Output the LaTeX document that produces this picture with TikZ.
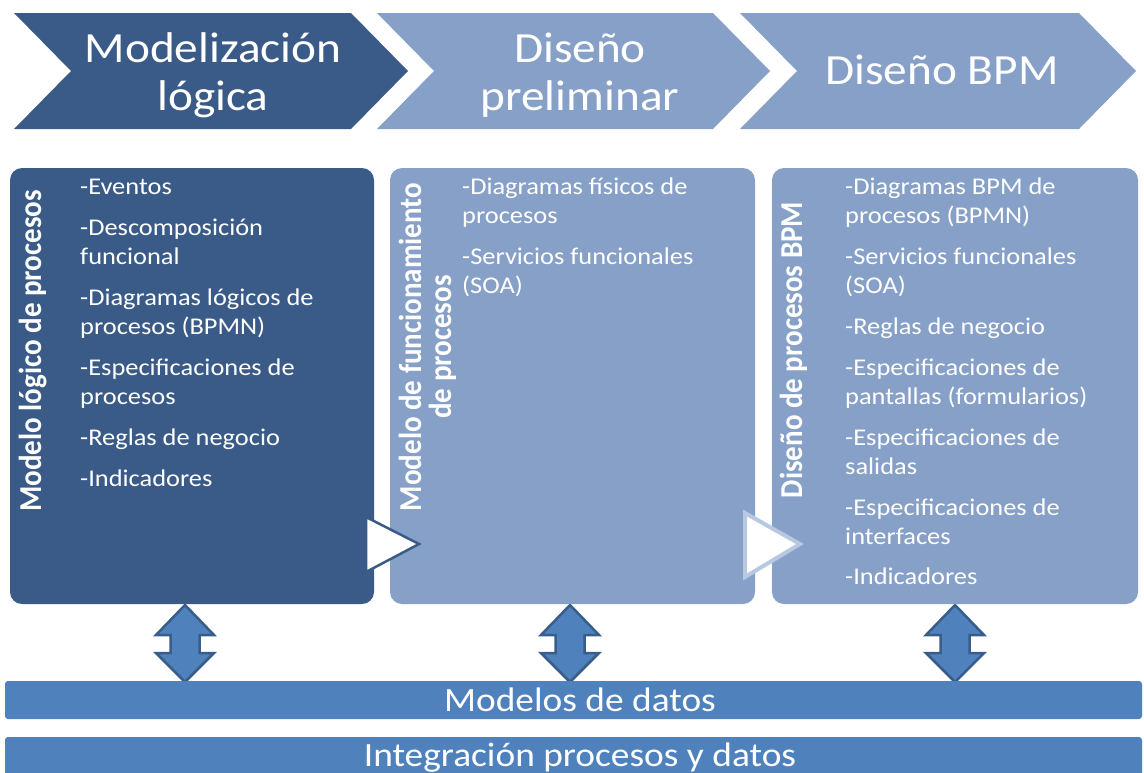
\documentclass[tikz,border=0pt]{standalone}
\usepackage{fontspec}
\setmainfont{Carlito}
\definecolor{dk}{HTML}{3A5B88}
\definecolor{lt}{HTML}{87A0C8}
\definecolor{md}{HTML}{4F81BD}
\definecolor{ab}{HTML}{385D8A}
\definecolor{tb}{HTML}{B9C8E1}
\begin{document}
\begin{tikzpicture}[x=1pt,y=-1pt,
  boxshape/.style={rounded corners=12pt, inner sep=0pt, outer sep=0pt, anchor=north west},
  bul/.style={anchor=base west, inner sep=0pt, text=white, font=\fontsize{24}{29}\selectfont, xscale=1.1},
  vlab/.style={anchor=base, inner sep=0pt, text=white, font=\bfseries\fontsize{29}{30}\selectfont, xscale=1.1, rotate=90},
  head/.style={anchor=base, inner sep=0pt, text=white, font=\fontsize{43}{48}\selectfont, xscale=1.1},
  bartxt/.style={anchor=base, inner sep=0pt, text=white, font=\fontsize{34}{38}\selectfont, xscale=1.1},
  barshape/.style={fill=md, rounded corners=3pt},
  dblarrow/.style={fill=md, draw=ab, line width=2.5pt, line join=miter},
]
\useasboundingbox (0,0) rectangle (1144,772);

% chevrons
\fill[dk] (14,13) -- (351,13) -- (408,71) -- (351,129) -- (14,129) -- (71,71) -- cycle;
\fill[lt] (377,13) -- (713,13) -- (770,71) -- (713,129) -- (377,129) -- (434,71) -- cycle;
\fill[lt] (740,13) -- (1079,13) -- (1136,71) -- (1079,129) -- (740,129) -- (797,71) -- cycle;
\node[head] (h1a) at (213,62) {Modelización};
\node[head] (h1b) at (213,110) {lógica};
\node[head] (h2a) at (580,62) {Diseño};
\node[head] (h2b) at (580,110) {preliminar};
\node[head] (h3) at (942,84) {Diseño BPM};

% double arrows
\foreach \cx [count=\i] in {185,570,955}{
  \draw[dblarrow] (\cx,605) -- (\cx+29,635) -- (\cx+14.5,635) -- (\cx+14.5,653) -- (\cx+29,653) -- (\cx,682)
     -- (\cx-29,653) -- (\cx-14.5,653) -- (\cx-14.5,635) -- (\cx-29,635) -- cycle;
}

% boxes
\node[boxshape, fill=dk, minimum width=364pt, minimum height=436pt] (b1) at (10,168) {};
\node[boxshape, fill=lt, minimum width=365pt, minimum height=436pt] (b2) at (390,168) {};
\node[boxshape, fill=lt, minimum width=366pt, minimum height=436pt] (b3) at (772,168) {};

% vertical labels
\node[vlab] (l1) at (41,351) {Modelo lógico de procesos};
\node[vlab] (l2a) at (421,347) {Modelo de funcionamiento};
\node[vlab] (l2b) at (451,347) {de procesos};
\node[vlab] (l3) at (802,350) {Diseño de procesos BPM};

% bullets
\foreach \y/\t [count=\i] in {194/{-Eventos},235/{-Descomposición},264/{funcional},305/{-Diagramas lógicos de},334/{procesos (BPMN)},375/{-Especificaciones de},404/{procesos},445/{-Reglas de negocio},486/{-Indicadores}}
  \node[bul] (a\i) at (80,\y) {\t};
\foreach \y/\t [count=\i] in {194/{-Diagramas físicos de},223/{procesos},264/{-Servicios funcionales},293/{(SOA)}}
  \node[bul] (c\i) at (462,\y) {\t};
\foreach \y/\t [count=\i] in {194/{-Diagramas BPM de},223/{procesos (BPMN)},264/{-Servicios funcionales},293/{(SOA)},334/{-Reglas de negocio},375/{-Especificaciones de},404/{pantallas (formularios)},445/{-Especificaciones de},474/{salidas},515/{-Especificaciones de},544/{interfaces},584/{-Indicadores}}
  \node[bul] (d\i) at (845,\y) {\t};

% transition triangles
\draw[dk, line width=2.5pt, fill=white, line join=miter] (366,517) -- (419,544) -- (366,572) -- cycle;
\draw[tb, line width=4pt, fill=white, line join=miter] (745,513) -- (800,544) -- (745,577) -- cycle;

% bars
\fill[barshape] (5,681) rectangle (1142,719);
\fill[barshape] (5,737) rectangle (1142,785);
\node[bartxt] (m1) at (580,711) {Modelos de datos};
\node[bartxt] (m2) at (580,766) {Integración procesos y datos};
\end{tikzpicture}
\end{document}
